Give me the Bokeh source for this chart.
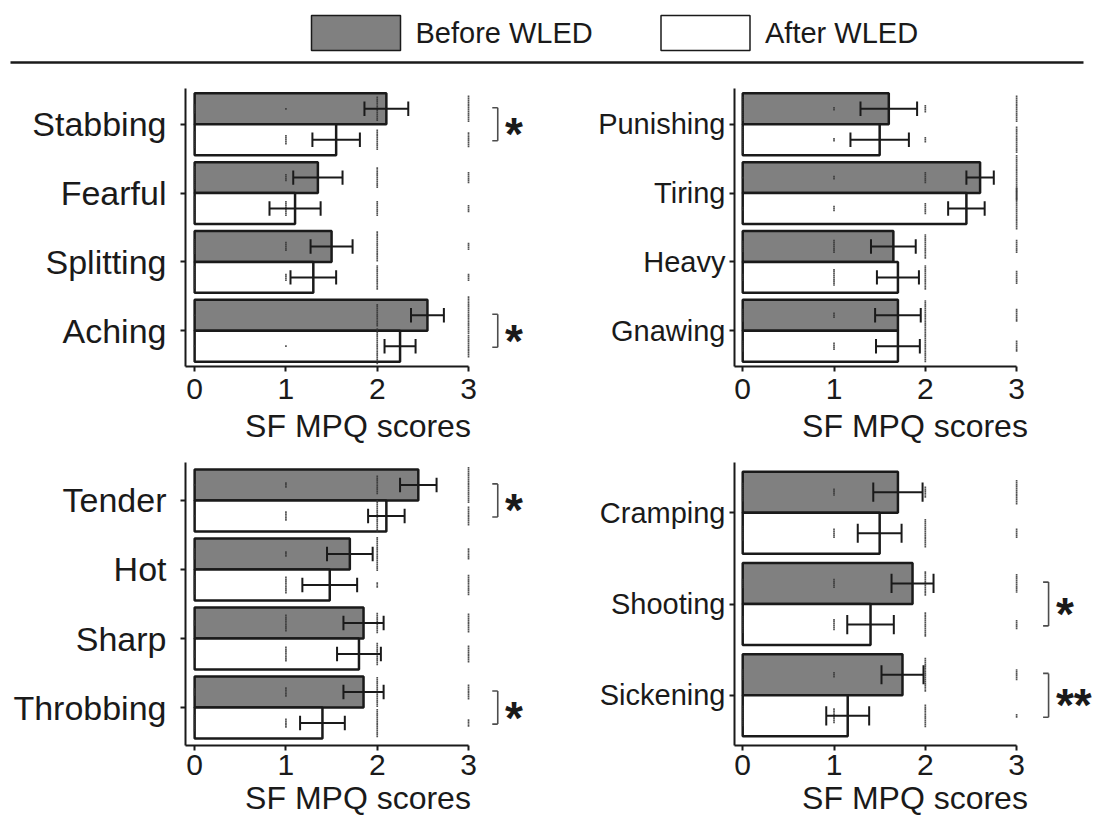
from bokeh.plotting import figure
from bokeh.models import Range1d, FixedTicker, ColumnDataSource
from bokeh.layouts import column, row
from bokeh.embed import file_html
from bokeh.resources import INLINE
from bokeh.core.properties import value

# ---------------- data ----------------
scores = [0, 1, 2, 3]
series_names = ["Before WLED", "After WLED"]
x_label = "SF MPQ scores"

tl_cats = ["Stabbing", "Fearful", "Splitting", "Aching"]
tl_before = [2.10, 1.35, 1.50, 2.55]
tl_before_se = [0.24, 0.27, 0.23, 0.18]
tl_after = [1.55, 1.10, 1.30, 2.25]
tl_after_se = [0.26, 0.28, 0.25, 0.17]
tl_sig = ["*", "", "", "*"]
tl_before_counts = [[5, 1, 13, 14], [12, 4, 11, 6], [8, 5, 16, 4], [1, 0, 12, 20]]
tl_after_counts = [[9, 5, 11, 8], [13, 8, 8, 4], [12, 4, 13, 4], [1, 1, 19, 12]]

tr_cats = ["Punishing", "Tiring", "Heavy", "Gnawing"]
tr_before = [1.60, 2.60, 1.65, 1.70]
tr_before_se = [0.31, 0.15, 0.245, 0.25]
tr_after = [1.50, 2.45, 1.70, 1.70]
tr_after_se = [0.32, 0.20, 0.23, 0.24]
tr_sig = ["", "", "", ""]
tr_before_counts = [[13, 2, 4, 14], [1, 2, 6, 24], [6, 7, 13, 7], [7, 3, 16, 7]]
tr_after_counts = [[14, 2, 3, 14], [2, 3, 6, 22], [4, 9, 13, 7], [6, 4, 17, 6]]

bl_cats = ["Tender", "Hot", "Sharp", "Throbbing"]
bl_before = [2.45, 1.70, 1.85, 1.85]
bl_before_se = [0.20, 0.25, 0.22, 0.22]
bl_after = [2.10, 1.48, 1.80, 1.40]
bl_after_se = [0.20, 0.30, 0.24, 0.245]
bl_sig = ["*", "", "", "*"]
bl_before_counts = [[1, 3, 10, 19], [6, 3, 18, 6], [3, 9, 11, 10], [4, 5, 16, 8]]
bl_after_counts = [[1, 5, 17, 10], [10, 9, 3, 11], [4, 8, 12, 9], [9, 5, 15, 4]]

br_cats = ["Cramping", "Shooting", "Sickening"]
br_before = [1.70, 1.86, 1.75]
br_before_se = [0.27, 0.23, 0.23]
br_after = [1.50, 1.40, 1.15]
br_after_se = [0.24, 0.255, 0.235]
br_sig = ["", "*", "**"]
br_before_counts = [[10, 4, 6, 13], [5, 5, 13, 10], [6, 3, 18, 6]]
br_after_counts = [[8, 5, 15, 5], [9, 6, 13, 5], [11, 8, 12, 2]]

# ---------------- style ----------------
FONT = "Liberation Sans"
INK = "#1a1a1a"
GRAY = "#808080"
BRACKET = "#4d4d4d"
PPU_X = 91.3


def make_panel(cats, before, bse, after, ase, sig, bcnt, acnt, *, width, height,
               mb_left, mb_right, mb_top, mb_bottom, x_start, y_pad,
               cat_font, cat_standoff, bracket_x, tick_standoff, label_standoff):
    n = len(cats)
    frame_w = width - mb_left - mb_right
    frame_h = height - mb_top - mb_bottom
    x_end = x_start + frame_w / PPU_X
    y_start, y_end = -y_pad, n - 1 + y_pad
    ppu_y = frame_h / (y_end - y_start)

    p = figure(width=width, height=height,
               x_range=Range1d(x_start, x_end), y_range=Range1d(y_start, y_end),
               output_backend="svg", toolbar_location=None,
               min_border_left=mb_left, min_border_right=mb_right,
               min_border_top=mb_top, min_border_bottom=mb_bottom)
    p.outline_line_color = None
    p.xgrid.visible = False
    p.ygrid.visible = False
    p.background_fill_color = "white"
    p.border_fill_color = "white"

    centers = [n - 1 - i for i in range(n)]
    off = 0.225
    bar_h = 0.45
    cap = 0.105

    def src_for(vals, ses, sign):
        ys = [c + sign * off for c in centers]
        return ColumnDataSource(dict(
            y=ys, v=vals,
            lo=[v - s for v, s in zip(vals, ses)],
            hi=[v + s for v, s in zip(vals, ses)],
            yc0=[y - cap for y in ys], yc1=[y + cap for y in ys],
            cat=cats))

    sb = src_for(before, bse, +1)
    sa = src_for(after, ase, -1)

    p.hbar(y="y", left=0, right="v", height=bar_h, source=sb,
           fill_color=GRAY, line_color=INK, line_width=2.5)
    p.hbar(y="y", left=0, right="v", height=bar_h, source=sa,
           fill_color="white", line_color=INK, line_width=2.5)

    # individual-score dots
    dstep = 1.9 / ppu_y
    dx, dy = [], []
    for counts_list, sign in ((bcnt, +1), (acnt, -1)):
        for c, counts in zip(centers, counts_list):
            yc = c + sign * off
            for s, k in zip(scores, counts):
                for j in range(k):
                    dx.append(s)
                    dy.append(yc + (j - (k - 1) / 2) * dstep)
    p.scatter(dx, dy, marker="square", size=1.7, fill_color="#333333",
              line_color=None, alpha=0.85)

    for s in (sb, sa):
        p.segment(x0="lo", y0="y", x1="hi", y1="y", source=s, line_color=INK, line_width=2)
        p.segment(x0="lo", y0="yc0", x1="lo", y1="yc1", source=s, line_color=INK, line_width=2)
        p.segment(x0="hi", y0="yc0", x1="hi", y1="yc1", source=s, line_color=INK, line_width=2)

    # significance brackets
    bc, tt = [], []
    for c, s in zip(centers, sig):
        if s:
            bc.append(c)
            tt.append(s)
    if tt:
        half = 0.24
        tick = 0.06
        ys0 = [c - half for c in bc]
        ys1 = [c + half for c in bc]
        xs = [bracket_x] * len(bc)
        xt = [bracket_x - tick] * len(bc)
        p.segment(x0=xs, y0=ys0, x1=xs, y1=ys1, line_color=BRACKET, line_width=1.6)
        p.segment(x0=xt, y0=ys0, x1=xs, y1=ys0, line_color=BRACKET, line_width=1.6)
        p.segment(x0=xt, y0=ys1, x1=xs, y1=ys1, line_color=BRACKET, line_width=1.6)
        p.text(x=[bracket_x + 0.08] * len(bc), y=bc, text=tt,
               text_font=value(FONT), text_font_style="bold", text_font_size="46px",
               text_color=INK, text_align="left", text_baseline="alphabetic",
               y_offset=10)

    ax = p.xaxis[0]
    ax.ticker = FixedTicker(ticks=scores)
    ax.bounds = (x_start, scores[-1])
    ax.axis_label = x_label
    ax.axis_label_text_font = FONT
    ax.axis_label_text_font_size = "32px"
    ax.axis_label_text_font_style = "normal"
    ax.axis_label_text_color = INK
    ax.axis_label_standoff = label_standoff
    ax.major_label_text_font = FONT
    ax.major_label_text_font_size = "30px"
    ax.major_label_text_color = INK
    ax.major_label_standoff = tick_standoff
    ax.major_tick_out = 5
    ax.major_tick_in = 0
    ax.minor_tick_out = 0
    ax.minor_tick_in = 0
    ax.axis_line_width = 2
    ax.axis_line_color = INK
    ax.major_tick_line_width = 2
    ax.major_tick_line_color = INK

    ay = p.yaxis[0]
    ay.ticker = FixedTicker(ticks=centers)
    ay.major_label_overrides = {c: name for c, name in zip(centers, cats)}
    ay.major_label_text_font = FONT
    ay.major_label_text_font_size = cat_font
    ay.major_label_text_color = INK
    ay.major_label_standoff = cat_standoff
    ay.major_tick_out = 5
    ay.major_tick_in = 0
    ay.minor_tick_out = 0
    ay.minor_tick_in = 0
    ay.axis_line_width = 2
    ay.axis_line_color = INK
    ay.major_tick_line_width = 2
    ay.major_tick_line_color = INK
    return p


W_L, W_R = 548, 547
HH, H1, H2 = 70, 380, 369

left_kw = dict(width=W_L, mb_left=185, mb_right=18, x_start=-0.1,
               cat_font="34px", cat_standoff=14, bracket_x=3.32)
right_kw = dict(width=W_R, mb_left=186, mb_right=0, x_start=-0.09,
                cat_font="29px", cat_standoff=4, bracket_x=3.35)
row1_kw = dict(height=H1, mb_top=18, mb_bottom=84, tick_standoff=7, label_standoff=6)
row2_kw = dict(height=H2, mb_top=12, mb_bottom=74, tick_standoff=4, label_standoff=2)

tl = make_panel(tl_cats, tl_before, tl_before_se, tl_after, tl_after_se, tl_sig,
                tl_before_counts, tl_after_counts, y_pad=0.52, **left_kw, **row1_kw)
tr = make_panel(tr_cats, tr_before, tr_before_se, tr_after, tr_after_se, tr_sig,
                tr_before_counts, tr_after_counts, y_pad=0.52, **right_kw, **row1_kw)
bl = make_panel(bl_cats, bl_before, bl_before_se, bl_after, bl_after_se, bl_sig,
                bl_before_counts, bl_after_counts, y_pad=0.55, **left_kw, **row2_kw)
br = make_panel(br_cats, br_before, br_before_se, br_after, br_after_se, br_sig,
                br_before_counts, br_after_counts, y_pad=0.55, **right_kw, **row2_kw)

# ---------------- header with legend (screen-pixel coordinates) ----------------
HW = W_L + W_R
hdr = figure(width=HW, height=HH, x_range=Range1d(0, HW), y_range=Range1d(HH, 0),
             output_backend="svg", toolbar_location=None,
             min_border_left=0, min_border_right=0, min_border_top=0, min_border_bottom=0)
hdr.axis.visible = False
hdr.xgrid.visible = False
hdr.ygrid.visible = False
hdr.outline_line_color = None
leg_x = [355.5, 705.0]
leg_y = [32.5, 32.5]
hdr.rect(x=leg_x, y=leg_y, width=89, height=35, fill_color=[GRAY, "white"],
         line_color=INK, line_width=1.5)
hdr.text(x=[x + 59.5 for x in leg_x], y=leg_y, text=series_names,
         text_font=value(FONT), text_font_size="29px", text_color=INK,
         text_align="left", text_baseline="middle")
hdr.segment(x0=[10], y0=[62], x1=[HW - 12], y1=[62], line_color=INK, line_width=2.5)

layout = column(hdr, row(tl, tr), row(bl, br))

open("out.html", "w").write(file_html(layout, INLINE))
